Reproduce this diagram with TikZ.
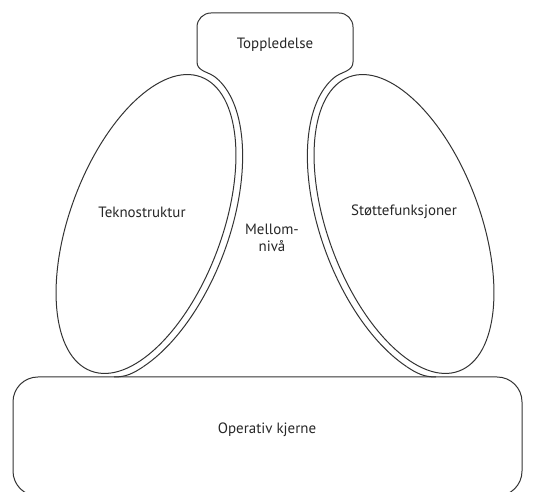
\documentclass[tikz,border=0pt]{standalone}
\usepackage{fontspec}
\setmainfont{PT Sans}

\begin{document}
\begin{tikzpicture}[x=1bp,y=1bp,line width=1bp,draw=black!80,
  lbl/.style={text=black!85,font=\fontsize{15}{17}\selectfont}]
\useasboundingbox (0,0) rectangle (534,492);

% operativ kjerne
\draw[rounded corners=25] (13,-4) rectangle (522,115);

% toppledelse with the neck
\draw (216,414.3) to[out=140,in=-90] (197,430) -- (197,465)
  arc[start angle=180,end angle=90,radius=14] -- (339,479)
  arc[start angle=90,end angle=0,radius=14] -- (353,430)
  to[out=-90,in=40] (334,414.3);

% teknostruktur
\begin{scope}[shift={(146,268)},rotate=69.5]
\draw (0,0) ellipse[x radius=157,y radius=76];
\draw plot[domain=-10:-145,samples=60] ({164*cos(\x)},{83*sin(\x)});
\end{scope}
\draw (143.6,125.5) to[out=213.7,in=0] (114,115);

% stoettefunksjoner
\begin{scope}[shift={(404,268)},rotate=110.5]
\draw (0,0) ellipse[x radius=157,y radius=76];
\draw plot[domain=10:145,samples=60] ({164*cos(\x)},{83*sin(\x)});
\end{scope}
\draw (406.4,125.5) to[out=-33.7,in=180] (436,115);

\node[lbl] (topp) at (275,447) {Toppledelse};
\node[lbl] (tekno) at (142,280) {Teknostruktur};
\node[lbl] (stotte) at (404,280) {Støttefunksjoner};
\node[lbl,align=center] (mellom) at (272,254) {Mellom-\\nivå};
\node[lbl] (kjerne) at (267,62) {Operativ kjerne};
\end{tikzpicture}
\end{document}
